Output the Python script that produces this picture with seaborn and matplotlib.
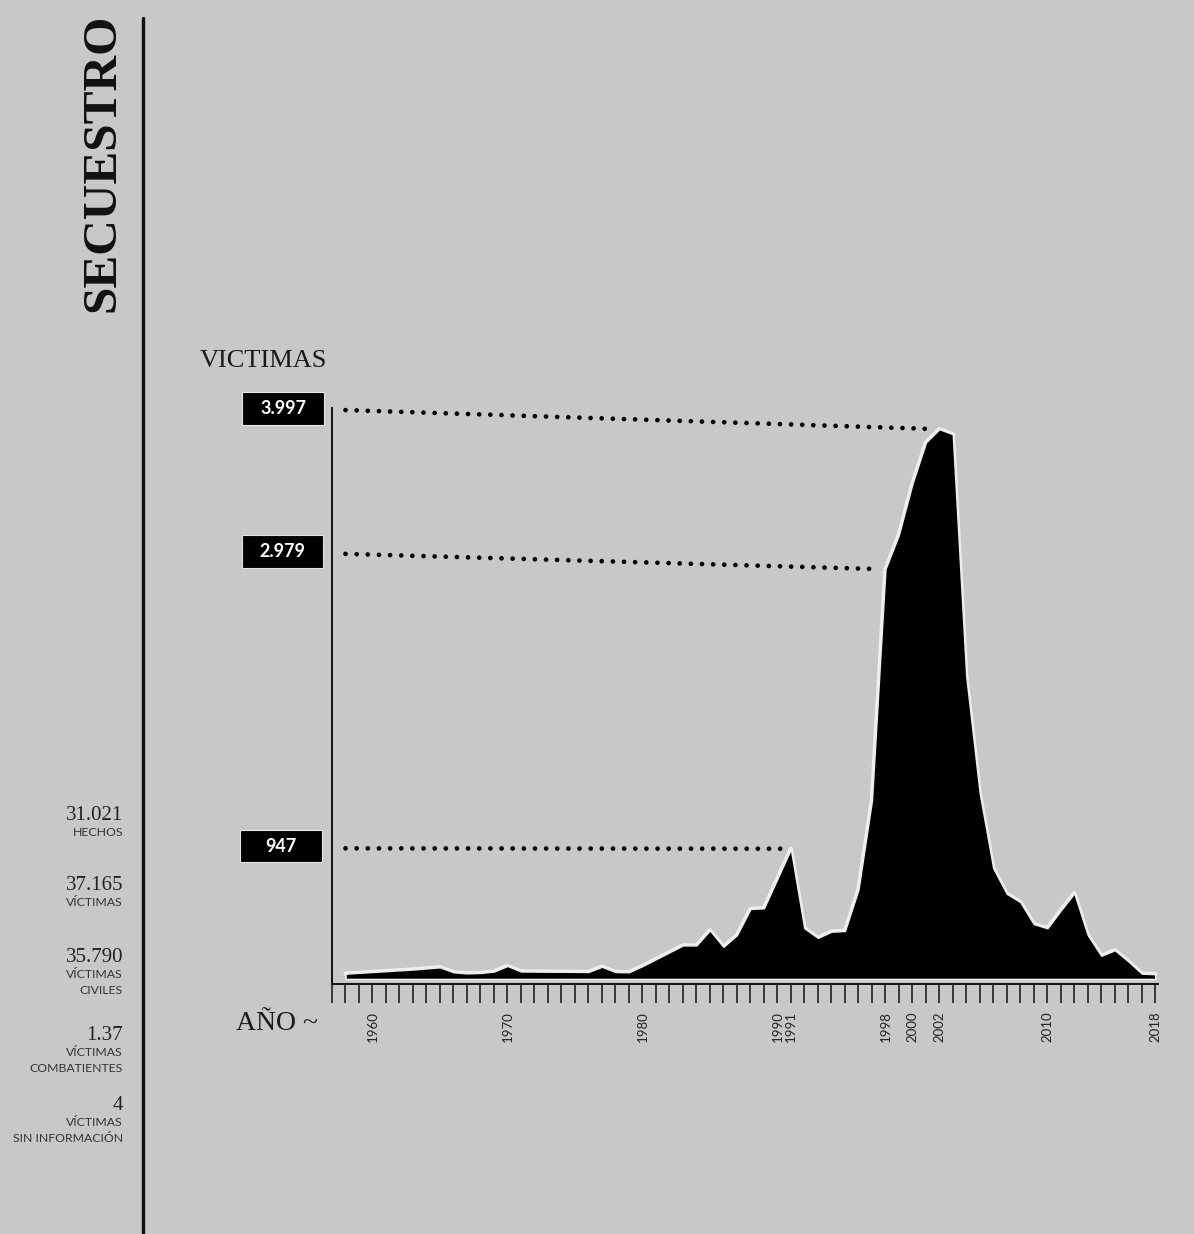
import matplotlib
matplotlib.use('Agg')
import matplotlib.pyplot as plt
from matplotlib.patches import Rectangle
from matplotlib.lines import Line2D
import pandas as pd
import seaborn as sns

# ---------------- datos
anios = list(range(1958, 2019))
victimas = [40, 46, 52, 58, 64, 70, 78, 86, 50, 42,          # 1958-1967
            45, 55, 96, 56, 55, 54, 54, 53, 52, 90,          # 1968-1977
            52, 50, 95, 145, 195, 245, 245, 355, 235, 320,   # 1978-1987
            510, 515, 730, 947, 370, 300, 345, 350, 650, 1300,  # 1988-1997
            2979, 3230, 3600, 3900, 3997, 3960, 2200, 1350, 806, 620,  # 1998-2007
            560, 400, 370, 500, 625, 320, 170, 210, 130, 40,  # 2008-2017
            36]                                               # 2018

anios_marcas = list(range(1957, 2019))
anios_etiqueta = [1960, 1970, 1980, 1990, 1991, 1998, 2000, 2002, 2010, 2018]

cajas_texto = ['3.997', '2.979', '947']
cajas_valor = [3997, 2979, 947]
cajas_anio = [2002, 1998, 1991]
cajas_inicio = [4135, 3090, 950]   # altura donde arranca la linea punteada

cifras = ['31.021', '37.165', '35.790', '1.37', '4']
cifras_texto = [['HECHOS'], ['VÍCTIMAS'], ['VÍCTIMAS', 'CIVILES'],
                ['VÍCTIMAS', 'COMBATIENTES'], ['VÍCTIMAS', 'SIN INFORMACIÓN']]

# ---------------- estilo
W, H = 1194, 1234
FONDO = '#cac8c6'
SERIF = ['Liberation Serif', 'DejaVu Serif']

sns.set_theme(style='white')
plt.rcParams['font.family'] = ['Lato', 'DejaVu Sans']


def fx(x):
    return x / W


def fy(y):
    return 1 - y / H


df = pd.DataFrame({'anio': anios, 'victimas': victimas})

fig = plt.figure(figsize=(W / 100, H / 100), dpi=100, facecolor=FONDO)
ax = fig.add_axes([fx(332), fy(984), 826 / W, 576 / H])
ax.set_facecolor(FONDO)

# area negra con borde claro
sns.lineplot(data=df, x='anio', y='victimas', color='#f0f0f0', linewidth=3, ax=ax, zorder=2)
ax.fill_between(df['anio'], df['victimas'], 0, facecolor='black',
                edgecolor='#ececec', linewidth=1.2, zorder=3)

ax.set_xlim(1957, 2018.2)
ax.set_ylim(-36, 4150)
ax.set_xlabel('')
ax.set_ylabel('')
ax.set_yticks([])

ax.set_xticks(anios_marcas)
ax.set_xticklabels([str(a) if a in anios_etiqueta else '' for a in anios_marcas])
ax.tick_params(axis='x', direction='out', length=13.5, width=1.1, color='#111111',
               pad=6, labelsize=9.5, labelrotation=90, labelcolor='#222222', bottom=True)

for lado in ['top', 'right']:
    ax.spines[lado].set_visible(False)
for lado in ['left', 'bottom']:
    ax.spines[lado].set_color('#111111')
    ax.spines[lado].set_linewidth(1.4)

# lineas punteadas hacia los picos
for ini, val, anio in zip(cajas_inicio, cajas_valor, cajas_anio):
    ax.plot([1958, anio - 0.4], [ini, val], color='black', lw=3.4,
            linestyle=(0, (0.01, 2.35)), dash_capstyle='round', clip_on=False, zorder=4)

# cajas con los valores
cajas_px = [(242, 392, 82, 33), (242, 535, 81, 33), (240, 830, 82, 32)]
for (x, y, w, h), txt in zip(cajas_px, cajas_texto):
    fig.add_artist(Rectangle((fx(x), fy(y + h)), w / W, h / H, transform=fig.transFigure,
                             facecolor='black', edgecolor='#e6e6e6', linewidth=0.8))
    fig.text(fx(x + w / 2), fy(y + h / 2), txt, color='white', fontsize=13,
             fontweight='bold', ha='center', va='center')

fig.text(fx(200), fy(361), 'VICTIMAS', family=SERIF, fontsize=19, color='#1a1a1a',
         ha='left', va='center')
fig.text(fx(236), fy(1023), 'AÑO ~', family=SERIF, fontsize=20, color='#1a1a1a',
         ha='left', va='center')

# titulo vertical y linea
fig.text(fx(102), fy(163), 'SECUESTRO', family=SERIF, fontsize=35.5, fontweight='bold',
         color='#111111', rotation=90, ha='center', va='center')
fig.add_artist(Line2D([fx(143), fx(143)], [fy(18), 0], color='#111111', lw=2.4))

# resumen a la izquierda
cifras_y = [815, 885, 957, 1035, 1105]
for y, num, lineas in zip(cifras_y, cifras, cifras_texto):
    fig.text(fx(123), fy(y), num, family=SERIF, fontsize=15, color='#222222',
             ha='right', va='center')
    for i, linea in enumerate(lineas):
        fig.text(fx(123), fy(y + 17 + 17 * i), linea, fontsize=8.8, color='#333333',
                 ha='right', va='center')

fig.savefig('out.png', dpi=100, facecolor=FONDO)
